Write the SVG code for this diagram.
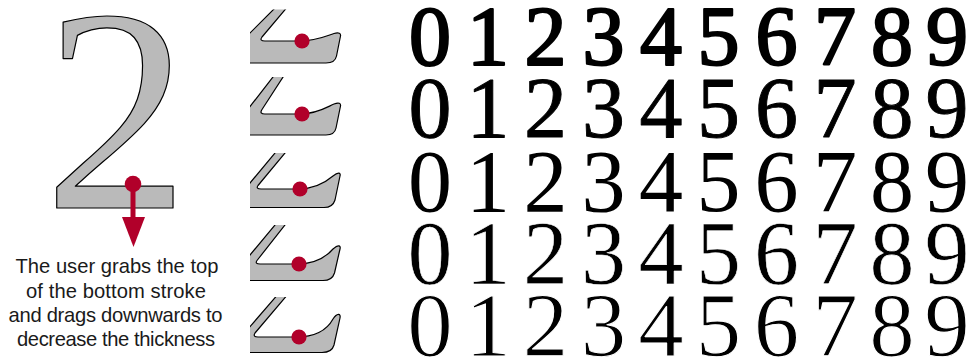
<svg xmlns="http://www.w3.org/2000/svg" width="969" height="360" viewBox="0 0 969 360">
<style>
.glyph{fill:#bababa;stroke:#000;stroke-width:1.2;stroke-linejoin:round}
.dot{fill:#b1002a}
.cap{font-family:"Liberation Sans",Arial,sans-serif;font-size:20.2px;fill:#1a1a1a;text-anchor:middle}
.dig{font-family:"Liberation Serif","Times New Roman",serif;fill:#000;text-anchor:middle;stroke-linejoin:round}
</style>
<defs>
<clipPath id="c1"><rect x="250" y="9.5" width="100" height="60"/></clipPath>
<clipPath id="c2"><rect x="250" y="77" width="100" height="65"/></clipPath>
<clipPath id="c3"><rect x="250" y="153" width="100" height="60"/></clipPath>
<clipPath id="c4"><rect x="250" y="225" width="100" height="60"/></clipPath>
<clipPath id="c5"><rect x="250" y="297" width="100" height="60"/></clipPath>
</defs>

<g id="big-two">
<text x="44" y="208" font-family="'Liberation Serif','Times New Roman',serif" font-size="290" fill="#bababa" stroke="#000" stroke-width="1.2" stroke-linejoin="round">2</text>
<circle class="dot" cx="133" cy="184" r="8.3"/>
<rect class="dot" x="130.5" y="184" width="5" height="36"/>
<polygon class="dot" points="122,217 145,217 133.5,247"/>
</g>

<g id="caption">
<text class="cap" x="117" y="273" textLength="203">The user grabs the top</text>
<text class="cap" x="116" y="297.5" textLength="180">of the bottom stroke</text>
<text class="cap" x="115.5" y="322" textLength="214">and drags downwards to</text>
<text class="cap" x="116" y="346" textLength="198">decrease the thickness</text>
</g>

<g id="fragment-1">
<g clip-path="url(#c1)"><path class="glyph" d="M238,45 L278,5 L289,5 L262,37 Q259,41 265,41 L300,41 C316,41 326,36 334,33.5 C339,32 341,33.5 340.5,36 L336.5,56 C335.5,61 332,63 326,63 L238,63 Z"/></g>
<circle class="dot" cx="302" cy="41" r="7.6"/>
</g>
<g id="fragment-2">
<g clip-path="url(#c2)"><path class="glyph" d="M238,122 L275.3,74 L285,74 L262,109.5 Q259,114 265,114 L300,114 C317,114 327,107 334,104 C339,102 341,103.5 340.5,106 L336,128 C335,133 332,135 326,135 L238,135 Z"/></g>
<circle class="dot" cx="302" cy="114" r="7.6"/>
</g>
<g id="fragment-3">
<g clip-path="url(#c3)"><path class="glyph" d="M240,195 L277.5,150 L287.5,150 L258,185.5 Q255.5,189 261,189 L298,189 C316,189 326,182 333,176 C338,172 341,172.5 340,176 L335,200 C333.5,205 330,207.5 324,207.5 L240,207.5 Z"/></g>
<circle class="dot" cx="300" cy="189" r="7.6"/>
</g>
<g id="fragment-4">
<g clip-path="url(#c4)"><path class="glyph" d="M240,267 L277.5,222 L287.3,222 L257,260.5 Q254.5,264 260,264 L297,264 C316,264 326,257 333,249 C338,244.5 341,245 340,249 L334.5,273 C333,278 329.5,280.5 323,280.5 L240,280.5 Z"/></g>
<circle class="dot" cx="299" cy="264" r="7.6"/>
</g>
<g id="fragment-5">
<g clip-path="url(#c5)"><path class="glyph" d="M238.5,340 L278.2,294 L288.1,294 L255,333 Q252.5,337 258,337 L296,337 C316,337 327,330 333,319 C337,313 341,313 340,318 L334,345 C332.5,350.5 329,352.5 322,352.5 L238.5,352.5 Z"/></g>
<circle class="dot" cx="299" cy="337" r="7.6"/>
</g>

<g id="digits">
<text class="dig" font-size="84" stroke="#000" stroke-width="2.2" x="430 488 545.5 603.5 661 718.5 776.5 835 892 947" y="65">0123456789</text>
<text class="dig" font-size="86" stroke="#000" stroke-width="0.9" x="430 488 545.5 603.5 661 718.5 776.5 835 892 947" y="137">0123456789</text>
<text class="dig" font-size="88" x="430 488 545.5 603.5 661 718.5 776.5 835 892 947" y="211">0123456789</text>
<text class="dig" font-size="90" stroke="#fff" stroke-width="0.6" x="430 488 545.5 603.5 661 718.5 776.5 835 892 947" y="284">0123456789</text>
<text class="dig" font-size="91" stroke="#fff" stroke-width="1.1" x="430 488 545.5 603.5 661 718.5 776.5 835 892 947" y="356">0123456789</text>
</g>
</svg>
